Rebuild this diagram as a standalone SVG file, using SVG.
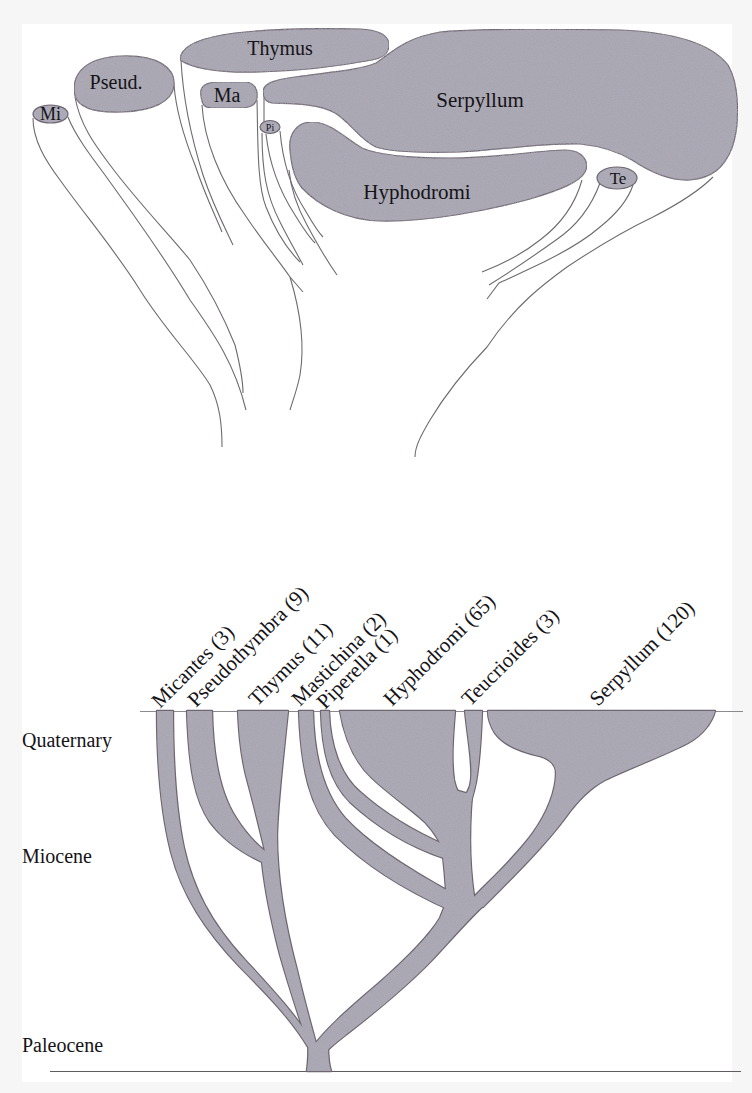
<svg xmlns="http://www.w3.org/2000/svg" width="752" height="1093" viewBox="0 0 752 1093">
<style>
text{font-family:"Liberation Serif","Times New Roman",serif;fill:#151317}
.blob{fill:#acaab6;stroke:#6e6670;stroke-width:1.2}
.ln{fill:none;stroke:#6f6a70;stroke-width:1.1}
.br-o{fill:#acaab6;stroke:#6e6670;stroke-width:2.4;stroke-linejoin:round}
.br-f{fill:#acaab6;stroke:none}
.lbl{font-size:21px}
.era{font-size:20px}
</style>
<defs>
<filter id="grain" x="0" y="0" width="1" height="1">
<feTurbulence type="fractalNoise" baseFrequency="0.85" numOctaves="2" seed="7" result="n"/>
<feColorMatrix in="n" type="matrix" values="0 0 0 0 0.38  0 0 0 0 0.36  0 0 0 0 0.42  1.6 0 0 0 -0.55" result="dots"/>
<feComposite in="dots" in2="SourceGraphic" operator="in" result="d2"/>
<feMerge><feMergeNode in="SourceGraphic"/><feMergeNode in="d2"/></feMerge>
</filter>
<path id="mic" d="M157,711 L173,711 C173,765 176,810 184,848 C193,888 210,922 245,960 C273,990 298,1018 316,1047 L308,1047 C292,1020 268,995 240,967 C205,930 182,895 171,852 C161,812 157,765 157,711 Z"/>
<path id="pt" d="M187,711 L212,711 C213,760 221,795 236,818 C246,834 256,844 265,851 C260,830 254,805 248,783 C242,762 239,738 238,711 L288,711 C283,760 278,800 277,835 C277,880 285,925 297,970 C304,1000 311,1025 317,1047 L309,1047 C300,1020 290,990 280,955 C271,920 265,890 262,862 C245,854 225,842 210,822 C195,800 189,770 187,711 Z"/>
<path id="root" d="M308,1044 L328,1044 C328,1058 329,1065 331,1071 L307,1071 C308,1063 309,1055 308,1044 Z"/>
<path id="r1" d="M312,1048 C325,1030 345,1012 378,984 C405,960 428,938 440,918 L446,903 L484,905 C470,918 455,935 432,960 C405,988 375,1012 348,1033 C338,1041 330,1047 326,1052 Z"/>
<path id="trunk" d="M441,840 L455,790 L472,795 C469,830 469,870 476,908 L447,908 C446,885 444,862 441,840 Z"/>
<path id="hyph" d="M340,711 L455,711 C453,735 451,760 454,780 C456,790 460,797 466,803 L445,855 C442,845 436,834 425,822 C410,808 390,795 372,778 C355,762 345,740 340,711 Z"/>
<path id="teuc" d="M465,711 L482,711 C481,740 479,765 476,782 C474,792 472,798 470,805 L460,800 C466,795 470,790 471,780 C473,765 468,740 465,711 Z"/>
<path id="pip" d="M321,711 L329,711 C330,745 340,775 360,792 C380,810 410,830 447,846 L444,858 C405,845 375,825 350,802 C330,782 322,752 321,711 Z"/>
<path id="mast" d="M299,711 L313,711 C314,760 325,795 345,818 C370,845 410,870 452,893 L450,910 C405,890 365,865 335,835 C310,808 301,770 299,711 Z"/>
<path id="serp" d="M488,711 L715,711 C712,722 703,735 688,743 C665,755 630,768 605,780 C590,788 578,800 565,818 C545,845 515,875 483,907 L468,903 C490,880 515,858 533,833 C548,812 556,790 556,773 C556,765 550,759 540,756 C520,752 503,744 495,733 C490,725 488,718 488,711 Z"/>
</defs>
<rect width="752" height="1093" fill="#f7f6f7"/>
<rect x="22" y="24" width="710" height="1058" fill="#ffffff"/>

<!-- upper diagram: connectors -->
<g id="connectors-upper">
<path class="ln" d="M33,118 C33,140 45,160 60,180 C85,215 115,250 140,290 C165,330 195,360 210,385 C220,405 222,425 222,447"/>
<path class="ln" d="M68,117 C75,135 90,155 105,175 C130,210 160,250 190,300 C215,335 235,365 246,410"/>
<path class="ln" d="M75,97 C80,125 95,145 110,165 C140,205 170,235 190,260 C210,290 225,320 235,345 C240,365 243,380 243,393"/>
<path class="ln" d="M174,85 C176,110 185,140 195,165 C205,195 215,215 222,232"/>
<path class="ln" d="M181,60 C183,100 192,140 203,175 C213,205 225,228 233,245"/>
<path class="ln" d="M202,105 C204,140 220,180 245,215 C265,245 280,262 290,277 L303,292"/>
<path class="ln" d="M290,277 C300,310 305,345 300,375 C297,390 293,400 290,410"/>
<path class="ln" d="M257,100 C258,140 257,185 266,207 C275,230 288,250 300,262"/>
<path class="ln" d="M264,98 L264,122"/>
<path class="ln" d="M262,133 C262,170 266,195 280,222 C288,238 296,252 303,265"/>
<path class="ln" d="M266,134 C270,170 282,195 295,215 C303,228 309,237 315,243"/>
<path class="ln" d="M280,131 C283,165 292,190 305,210 C312,222 317,231 323,237"/>
<path class="ln" d="M289,170 C291,190 297,207 307,225 C315,240 325,258 337,275"/>
<path class="ln" d="M582,180 C575,205 560,225 540,240 C525,252 505,263 482,272"/>
<path class="ln" d="M600,183 C592,205 578,225 556,240 C535,255 510,272 489,285"/>
<path class="ln" d="M633,185 C628,200 615,215 600,227 C585,240 560,255 527,270 C515,276 505,280 499,283 L487,299"/>
<path class="ln" d="M713,177 C705,185 690,198 653,217 C630,228 600,245 567,267 C545,283 515,305 487,347 C465,370 445,395 430,420 C420,437 415,447 415,457"/>
</g>

<!-- upper diagram: nodes -->
<g id="thymus-up">
<path class="blob" filter="url(#grain)" d="M180,60 C180,47 196,38 235,33 C270,29 320,28 360,29 C378,30 389,35 389,45 C389,54 383,58 372,60 C340,66 300,71 260,72 C225,73 195,70 180,60 Z"/>
<text x="280" y="55" font-size="20" text-anchor="middle">Thymus</text>
</g>
<g id="pseud-up">
<path class="blob" filter="url(#grain)" d="M75,96 C70,72 88,57 122,56 C158,55 176,68 174,86 C172,102 152,111 122,112 C96,113 79,108 75,96 Z"/>
<text x="116" y="89" font-size="20" text-anchor="middle">Pseud.</text>
</g>
<g id="mi-up">
<ellipse class="blob" cx="50.5" cy="114" rx="17.5" ry="9"/>
<text x="50.5" y="120" font-size="18" text-anchor="middle">Mi</text>
</g>
<g id="ma-up">
<path class="blob" filter="url(#grain)" d="M201,96 C199,86 206,82 220,82 L244,82 C255,82 258,90 257,98 C256,106 249,108 238,108 L212,108 C204,108 202,104 201,96 Z"/>
<text x="227" y="102" font-size="20" text-anchor="middle">Ma</text>
</g>
<g id="serpyllum-up">
<path class="blob" filter="url(#grain)" d="M263,92 C263,84 272,80 295,77 C330,72 360,70 376,63 C392,52 405,38 440,32 C480,28 560,29 620,30 C670,32 710,42 728,65 C740,85 740,125 732,148 C724,168 712,178 690,180 C670,181 650,172 632,160 C615,150 600,146 580,144 C540,143 500,150 460,152 C420,153 390,152 376,147 C360,140 350,122 335,113 C318,103 290,104 272,103 C266,102 263,98 263,92 Z"/>
<text x="480" y="107" font-size="21" text-anchor="middle">Serpyllum</text>
</g>
<g id="pi-up">
<ellipse class="blob" cx="270" cy="127" rx="10" ry="6.5"/>
<text x="270" y="131" font-size="10" text-anchor="middle">Pi</text>
</g>
<g id="hyphodromi-up">
<path class="blob" filter="url(#grain)" d="M290,150 C288,133 298,122 312,122 C330,122 345,138 362,148 C380,156 410,158 450,158 C500,158 540,150 565,150 C583,150 590,162 585,172 C580,182 560,190 530,199 C490,210 430,222 380,221 C345,220 318,205 302,188 C293,177 291,163 290,150 Z"/>
<text x="417" y="199" font-size="21" text-anchor="middle">Hyphodromi</text>
</g>
<g id="te-up">
<ellipse class="blob" cx="617" cy="178" rx="20" ry="11"/>
<text x="618" y="184" font-size="17" text-anchor="middle">Te</text>
</g>

<!-- lower diagram: time axis -->
<g id="axis">
<line x1="140" y1="711.5" x2="743" y2="711.5" stroke="#8c8a8e" stroke-width="1"/>
<line x1="50" y1="1071.5" x2="741" y2="1071.5" stroke="#5e5a60" stroke-width="1.2"/>
<text class="era" x="22" y="747">Quaternary</text>
<text class="era" x="22" y="863">Miocene</text>
<text class="era" x="22" y="1052">Paleocene</text>
</g>

<!-- lower diagram: branches (outline pass, then fill pass to merge) -->
<g id="tree-outline" class="br-o">
<use href="#mic"/><use href="#pt"/><use href="#root"/><use href="#r1"/><use href="#trunk"/><use href="#hyph"/><use href="#teuc"/><use href="#pip"/><use href="#mast"/><use href="#serp"/>
</g>
<g id="tree-fill" class="br-f" filter="url(#grain)">
<use href="#mic"/><use href="#pt"/><use href="#root"/><use href="#r1"/><use href="#trunk"/><use href="#hyph"/><use href="#teuc"/><use href="#pip"/><use href="#mast"/><use href="#serp"/>
</g>

<!-- lower diagram: clade labels -->
<g id="labels">
<text class="lbl" transform="translate(160,709) rotate(-45)">Micantes (3)</text>
<text class="lbl" transform="translate(196,708) rotate(-45)">Pseudothymbra (9)</text>
<text class="lbl" transform="translate(257,707) rotate(-45)">Thymus (11)</text>
<text class="lbl" transform="translate(300,707) rotate(-45)">Mastichina (2)</text>
<text class="lbl" transform="translate(325,710) rotate(-45)">Piperella (1)</text>
<text class="lbl" transform="translate(392,707) rotate(-45)">Hyphodromi (65)</text>
<text class="lbl" transform="translate(470,707) rotate(-45)">Teucrioides (3)</text>
<text class="lbl" transform="translate(598,707) rotate(-45)">Serpyllum (120)</text>
</g>
</svg>
